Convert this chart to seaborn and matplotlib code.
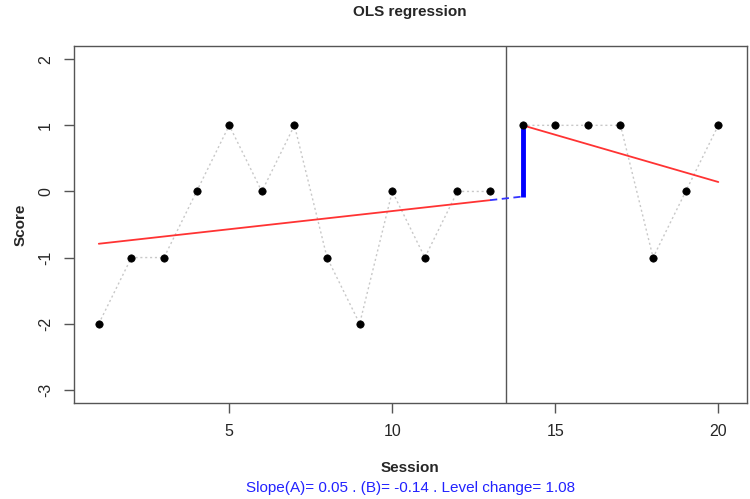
import numpy as np
import pandas as pd
import seaborn as sns
import matplotlib
matplotlib.use("Agg")
import matplotlib.pyplot as plt

# data
sessions = list(range(1, 21))
scores = [-2, -1, -1, 0, 1, 0, 1, -1, -2, 0, -1, 0, 0,
          1, 1, 1, 1, -1, 0, 1]
phase = ["A"] * 13 + ["B"] * 7
x_ticks = [5, 10, 15, 20]
y_ticks = [-3, -2, -1, 0, 1, 2]

df = pd.DataFrame({"Session": sessions, "Score": scores, "phase": phase})
a = df[df.phase == "A"]
b = df[df.phase == "B"]

# OLS fits per phase
slope_a, icpt_a = np.polyfit(a.Session, a.Score, 1)
slope_b, icpt_b = np.polyfit(b.Session, b.Score, 1)
x_b0 = b.Session.min()
a_at_b0 = icpt_a + slope_a * x_b0
b_at_b0 = icpt_b + slope_b * x_b0
level = b_at_b0 - a_at_b0

sns.set_style("white")
plt.rcParams["font.family"] = ["Liberation Sans", "DejaVu Sans"]

fig = plt.figure(figsize=(7.5, 4.99), dpi=100)
ax = fig.add_axes([0.0987, 0.1924, 0.8973, 0.7154])

# dotted connections within each phase
for name, part in df.groupby("phase"):
    sns.lineplot(data=part, x="Session", y="Score", ax=ax, color="#c8c8c8",
                 linestyle=(0, (1.5, 2)), linewidth=1, estimator=None, zorder=1)

# regression lines
fit_a = pd.DataFrame({"x": a.Session, "y": icpt_a + slope_a * a.Session})
fit_b = pd.DataFrame({"x": b.Session, "y": icpt_b + slope_b * b.Session})
sns.lineplot(data=fit_a, x="x", y="y", ax=ax, color="#ff3333", linewidth=1.3,
             estimator=None, zorder=2)
sns.lineplot(data=fit_b, x="x", y="y", ax=ax, color="#ff3333", linewidth=1.3,
             estimator=None, zorder=2)

# projection of phase A into B and level change
x_a_end = a.Session.max()
ax.plot([x_a_end, x_b0], [icpt_a + slope_a * x_a_end, a_at_b0],
        color="#3333ff", linestyle=(0, (4, 2.5)), linewidth=1.3, zorder=2)
ax.plot([x_b0, x_b0], [a_at_b0, b_at_b0], color="#0000ff", linewidth=3.5,
        zorder=3, solid_capstyle="butt")

sns.scatterplot(data=df, x="Session", y="Score", ax=ax, color="black",
                s=28, edgecolor="black", linewidth=0.5, zorder=4)

ax.axvline((x_a_end + x_b0) / 2, color="#555555", linewidth=1, zorder=1)

ax.set_xlim(0.24, 20.88)
ax.set_ylim(-3.2, 2.2)
ax.set_xticks(x_ticks)
ax.set_yticks(y_ticks)
ax.set_yticklabels([str(v) for v in y_ticks], rotation=90, va="center")
ax.tick_params(axis="both", direction="out", length=7, width=1, color="#555555",
               labelsize=11.5, pad=8, bottom=True, left=True)
for sp in ax.spines.values():
    sp.set_color("#555555")
    sp.set_linewidth(1)

ax.set_xlabel("")
ax.set_ylabel("")
fig.text(0.547, 0.062, "Session", fontsize=11, fontweight="bold",
         ha="center", va="center")
fig.text(0.027, 0.55, "Score", fontsize=11, fontweight="bold",
         ha="center", va="center", rotation=90)
fig.text(0.547, 0.976, "OLS regression", fontsize=11, fontweight="bold",
         ha="center", va="center")
fig.text(0.547, 0.022,
         "Slope(A)= %.2f . (B)= %.2f . Level change= %.2f" % (slope_a, slope_b, level),
         color="#2222ff", fontsize=11, ha="center", va="center")

fig.savefig("out.png", dpi=100)
